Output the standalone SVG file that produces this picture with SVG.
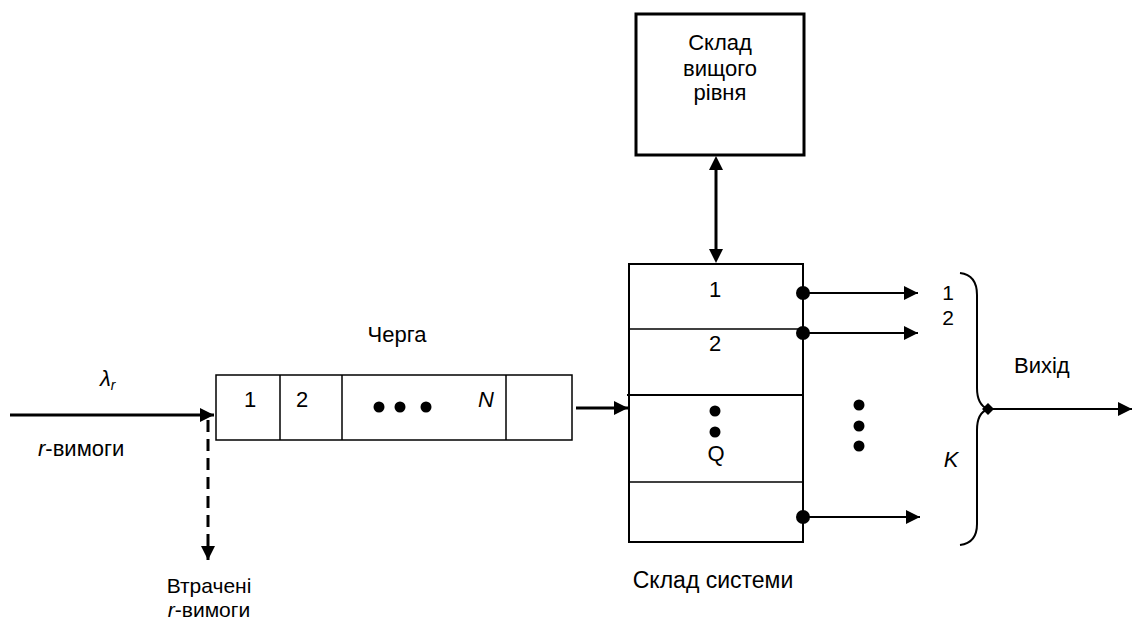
<svg xmlns="http://www.w3.org/2000/svg" width="1132" height="621" viewBox="0 0 1132 621">
<defs>
<style>
text{font-family:"Liberation Sans",Arial,sans-serif;font-size:22px;fill:#000}
.s{font-size:21px}
.c{text-anchor:middle}
.i{font-style:italic}
.thin{fill:none;stroke:#000;stroke-width:1.5}
.mid{fill:none;stroke:#000;stroke-width:2}
.thick{fill:none;stroke:#000;stroke-width:3}
</style>
<marker id="ahL" viewBox="0 0 10 10" refX="10" refY="5" markerWidth="14" markerHeight="14" markerUnits="userSpaceOnUse" orient="auto"><path d="M0,0L10,5L0,10z" fill="#000"/></marker>
</defs>
<g id="upper">
<rect x="636" y="14" width="168" height="141" class="thick"/>
<text class="c" x="720" y="50">Склад</text>
<text class="c" x="720" y="76">вищого</text>
<text class="c" x="720" y="100">рівня</text>
</g>
<g id="queue">
<rect x="216" y="375" width="356" height="65" class="thin"/>
<line x1="280" y1="375" x2="280" y2="440" class="thin"/>
<line x1="342" y1="375" x2="342" y2="440" class="thin"/>
<line x1="506" y1="375" x2="506" y2="440" class="thin"/>
<text class="c" x="250" y="407">1</text>
<text class="c" x="302" y="407">2</text>
<circle cx="379" cy="407" r="5.5"/>
<circle cx="400" cy="407" r="5.5"/>
<circle cx="426" cy="407" r="5.5"/>
<text class="c i" x="486" y="407">N</text>
<text class="c" x="397" y="342">Черга</text>
</g>
<g id="system">
<rect x="629" y="264" width="174" height="278" class="mid"/>
<line x1="629" y1="329" x2="803" y2="329" class="thin"/>
<line x1="627" y1="395" x2="803" y2="395" class="mid"/>
<line x1="629" y1="482" x2="803" y2="482" class="thin"/>
<text class="c" x="715" y="297">1</text>
<text class="c" x="715" y="351">2</text>
<circle cx="715" cy="411" r="5.5"/>
<circle cx="715" cy="432" r="5.5"/>
<text class="c" x="716" y="461">Q</text>
<circle cx="859" cy="405" r="5.5"/>
<circle cx="859" cy="426" r="5.5"/>
<circle cx="859" cy="446" r="5.5"/>
<text class="c" x="713" y="588" style="font-size:23px">Склад системи</text>
</g>
<g id="labels">
<text class="i" x="100" y="386">λ<tspan font-size="14" dy="4">r</tspan></text>
<text x="38" y="456"><tspan class="i">r</tspan>-вимоги</text>
<text class="c s" x="209" y="593">Втрачені</text>
<text class="c s" x="209" y="617"><tspan class="i">r</tspan>-вимоги</text>
<text class="c s" x="948" y="300">1</text>
<text class="c s" x="948" y="325">2</text>
<text class="c i" x="951" y="467">K</text>
<text x="1014" y="373">Вихід</text>
</g>
<g id="connectors">
<line x1="10" y1="415" x2="214" y2="415" class="thick" marker-end="url(#ahL)"/>
<line x1="208" y1="420" x2="208" y2="560" class="thick" stroke-dasharray="12,7" marker-end="url(#ahL)"/>
<line x1="576" y1="408" x2="628" y2="408" class="thick" marker-end="url(#ahL)"/>
<line x1="716" y1="170" x2="716" y2="250" class="thick"/>
<path d="M709,170L716,156L723,170z"/>
<path d="M709,249L716,263L723,249z"/>
<circle cx="803" cy="293" r="7"/>
<circle cx="803" cy="333" r="7"/>
<circle cx="803" cy="517" r="7"/>
<line x1="803" y1="293" x2="918" y2="293" class="mid" marker-end="url(#ahL)"/>
<line x1="803" y1="333" x2="918" y2="333" class="mid" marker-end="url(#ahL)"/>
<line x1="803" y1="517" x2="920" y2="517" class="mid" marker-end="url(#ahL)"/>
<path d="M960,273Q977,275 977,295L977,388Q977,405 988,409Q977,413 977,430L977,524Q977,543 960,545" class="mid"/>
<path d="M988,403L994,409L988,415L982,409z"/>
<line x1="988" y1="409" x2="1132" y2="409" class="mid" marker-end="url(#ahL)"/>
</g>
</svg>
